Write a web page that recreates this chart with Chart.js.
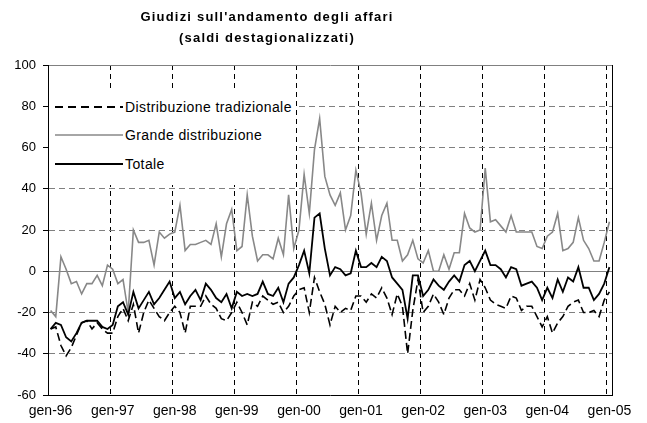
<!DOCTYPE html>
<html>
<head>
<meta charset="utf-8">
<script src="https://cdn.jsdelivr.net/npm/chart.js@4"></script>
<style>
html,body{margin:0;padding:0;background:#fff;}
#wrap{position:relative;width:647px;height:423px;font-family:"Liberation Sans",Arial,sans-serif;color:#000;}
#wrap canvas{position:absolute;left:0;top:0;}
#title{position:absolute;left:0;top:6px;width:534px;text-align:center;font-weight:bold;font-size:13px;letter-spacing:1.2px;line-height:21px;}
#legend{position:absolute;left:49px;top:88px;width:246px;height:97px;background:#fff;}
.row{position:absolute;left:0;height:20px;display:flex;align-items:center;font-size:14px;letter-spacing:0.4px;white-space:nowrap;}
.row svg{margin-left:6px;margin-right:2px;}
</style>
</head>
<body>
<div id="wrap">
  <canvas id="chart" width="647" height="423"></canvas>
  <div id="title">Giudizi sull'andamento degli affari<br>(saldi destagionalizzati)</div>
  <div id="legend">
    <div class="row" style="top:9px"><svg width="68" height="4"><line x1="0" y1="2" x2="68" y2="2" stroke="#000" stroke-width="2" stroke-dasharray="8 5"/></svg>Distribuzione tradizionale</div>
    <div class="row" style="top:37px"><svg width="68" height="4"><line x1="0" y1="2" x2="68" y2="2" stroke="#888" stroke-width="1.5"/></svg>Grande distribuzione</div>
    <div class="row" style="top:66px"><svg width="68" height="4"><line x1="0" y1="2" x2="68" y2="2" stroke="#000" stroke-width="2"/></svg>Totale</div>
  </div>
</div>
<script>
// mesi: gen-96 ... gen-05
const monthNames = ['gen','feb','mar','apr','mag','giu','lug','ago','set','ott','nov','dic'];
const firstYear = 1996;
const nMonths = 109;
const labels = [];
for (let i = 0; i < nMonths; i++) {
  const yy = String((firstYear + Math.floor(i / 12)) % 100).padStart(2, '0');
  labels.push(monthNames[i % 12] + '-' + yy);
}

const tradizionale = [
  -28,-27,-36,-41,-37,-31,-25,-24,-28,-25,-28,-30,
  -30,-22,-18,-24,-16,-30,-20,-14,-18,-22,-24,-20,
  -17,-20,-30,-17,-17,-17,-12,-16,-18,-23,-24,-20,
  -15,-20,-26,-15,-17,-12,-14,-16,-15,-20,-17,-12,
  -9,-8,-20,-3,-10,-16,-26,-17,-20,-18,-19,-12,
  -12,-15,-11,-13,-8,-13,-21,-11,-17,-40,-19,-4,
  -20,-17,-11,-15,-21,-13,-9,-9,-12,-6,-14,-4,
  -8,-14,-16,-17,-18,-12,-13,-19,-17,-17,-22,-27,
  -22,-30,-25,-22,-17,-15,-14,-20,-20,-19,-22,-14,
  -10
];
const grande = [
  -19,-22,7,1,-6,-5,-11,-6,-6,-2,-7,3,
  1,-6,-4,-20,20,14,14,15,3,19,16,18,
  19,32,10,13,13,14,15,13,23,7,23,30,
  10,12,37,17,5,8,8,6,16,8,37,11,
  20,47,28,59,74,46,37,32,38,20,27,49,
  38,18,33,15,27,33,15,15,5,8,15,6,
  4,10,0,0,8,1,9,9,28,21,19,20,
  50,24,25,22,19,27,19,19,19,19,12,11,
  17,19,28,10,11,14,26,15,11,5,5,14,
  24
];
const totale = [
  -28,-25,-26,-32,-34,-30,-25,-24,-24,-24,-27,-28,
  -26,-17,-15,-21,-10,-18,-14,-10,-16,-13,-9,-5,
  -13,-10,-16,-12,-9,-14,-6,-9,-13,-15,-11,-18,
  -10,-12,-11,-12,-11,-5,-11,-12,-8,-15,-6,-3,
  3,10,-1,26,28,11,-2,2,1,-2,-1,10,
  2,2,4,2,7,5,-3,-6,-9,-23,-2,-2,
  -12,-9,-4,-7,-9,-5,-2,-5,3,5,0,5,
  10,3,3,1,-3,2,1,-7,-6,-5,-8,-14,
  -8,-13,-4,-10,-3,-5,2,-8,-8,-14,-11,-6,
  2
];

const yTicks = [-60, -40, -20, 0, 20, 40, 60, 80, 100];
const FONT = '"Liberation Sans", Arial, sans-serif';

new Chart(document.getElementById('chart'), {
  type: 'line',
  data: {
    labels: labels,
    datasets: [
      {label: 'Totale', data: totale, borderColor: '#000', borderWidth: 1.8, order: 0},
      {label: 'Distribuzione tradizionale', data: tradizionale, borderColor: '#000', borderWidth: 1.6, borderDash: [8, 4], order: 1},
      {label: 'Grande distribuzione', data: grande, borderColor: '#888', borderWidth: 1.6, order: 2}
    ]
  },
  options: {
    responsive: false,
    animation: false,
    layout: {padding: {top: 65, left: 0, right: 0, bottom: 0}},
    elements: {point: {radius: 0}, line: {tension: 0, fill: false}},
    plugins: {legend: {display: false}, title: {display: false}, tooltip: {enabled: false}},
    scales: {
      x: {
        type: 'category',
        offset: true,
        grid: {
          offset: true,
          drawTicks: false,
          lineWidth: 1,
          color: c => (c.type === 'tick' && c.index > 0 && c.index % 12 === 0) ? '#000' : 'rgba(0,0,0,0)'
        },
        border: {color: '#000', width: 1, dash: () => [5, 4]},
        ticks: {
          autoSkip: false, maxRotation: 0, minRotation: 0, padding: 8, color: '#000',
          font: {family: FONT, size: 14},
          callback: function(v, i) { return i % 12 === 0 ? this.getLabelForValue(v) : ''; }
        },
        afterFit: s => { s.height = 28; }
      },
      y: {
        min: -60, max: 100,
        afterBuildTicks: s => { s.ticks = yTicks.map(v => ({value: v})); },
        grid: {
          lineWidth: 1,
          color: c => (c.type === 'tick' && c.tick.value === -60) ? 'rgba(0,0,0,0)' : '#808080',
          tickColor: '#000', tickLength: 5
        },
        border: {
          color: '#000', width: 1,
          dash: c => (c.type === 'tick' && (c.tick.value === 0 || c.tick.value === 100)) ? [] : [6, 4]
        },
        ticks: {padding: 7, color: '#000', font: {family: FONT, size: 13}},
        afterFit: s => { s.width = 48; }
      },
      y2: {
        position: 'right',
        min: -60, max: 100,
        ticks: {display: false},
        grid: {drawOnChartArea: false, drawTicks: false},
        border: {color: '#000', width: 1},
        afterFit: s => { s.width = 35; }
      }
    }
  }
});
</script>
</body>
</html>
